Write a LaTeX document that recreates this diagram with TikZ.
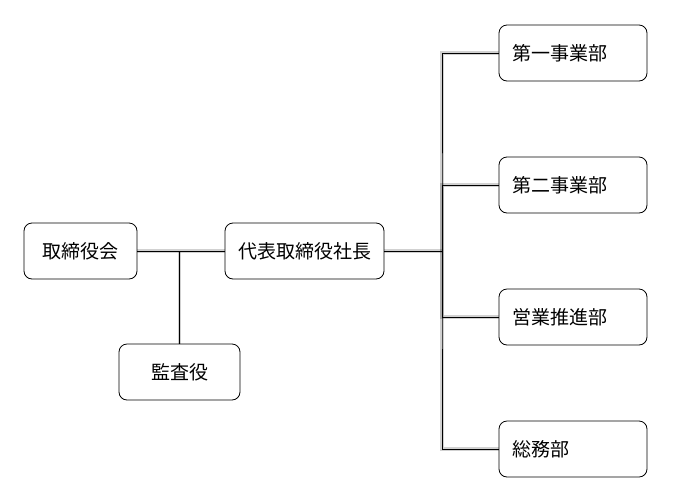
\documentclass[tikz,border=0pt]{standalone}
\usepackage{fontspec}
\setmainfont{Noto Sans CJK JP}

\begin{document}
\begin{tikzpicture}[x=1pt,y=-1pt,
  box/.style={draw=black, line width=0.8pt, rounded corners=8pt, minimum height=56pt, inner sep=0pt, font=\fontsize{19}{22}\selectfont},
  deptbox/.style={box, text width=122pt, inner xsep=13pt, align=left},
  link/.style={draw=black, line width=0.8pt},
  linkshade/.style={draw=black, line width=3.5pt, opacity=0.18, shift={(2.5pt,-3pt)}}]
\useasboundingbox (0,0) rectangle (686,499);
\node[box, minimum width=113pt] (board) at (80.5,251) {取締役会};
\node[box, minimum width=121pt] (audit) at (179.5,372) {監査役};
\node[box, minimum width=159pt] (ceo) at (304.5,251) {代表取締役社長};
\node[deptbox] (div1) at (573,53) {第一事業部};
\node[deptbox] (div2) at (573,185) {第二事業部};
\node[deptbox] (sales) at (573,317) {営業推進部};
\node[deptbox] (admin) at (573,449) {総務部};
\coordinate (tap) at (179.5,251);
\coordinate (hub) at (442,251);
% shadows of the lines
\draw[linkshade] (board.east) -- (ceo.west);
\draw[linkshade] (tap) -- (audit.north);
\draw[linkshade] (ceo.east) -- (hub);
\draw[linkshade] (div1.west) -| (hub) |- (admin.west);
\draw[linkshade] (hub) |- (div2.west);
\draw[linkshade] (hub) |- (sales.west);
% lines
\draw[link] (board.east) -- (ceo.west);
\draw[link] (tap) -- (audit.north);
\draw[link] (ceo.east) -- (hub);
\draw[link] (div1.west) -| (hub) |- (admin.west);
\draw[link] (hub) |- (div2.west);
\draw[link] (hub) |- (sales.west);
\end{tikzpicture}
\end{document}
